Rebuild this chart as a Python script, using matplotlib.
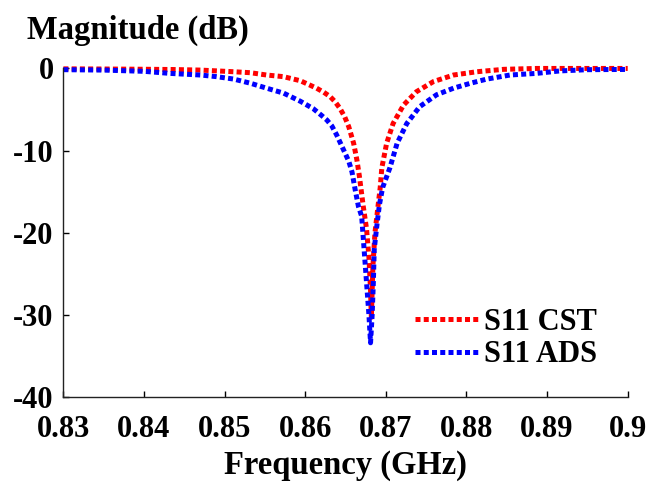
import matplotlib
matplotlib.use('Agg')
import matplotlib.pyplot as plt

# S11 sweep values (GHz, dB)
freq_cst = [0.830, 0.835, 0.840, 0.8435, 0.8470, 0.8511, 0.8532, 0.8552, 0.8573,
            0.8594, 0.8614, 0.8623, 0.8631, 0.8637, 0.8643, 0.8649, 0.8654, 0.8660,
            0.8664, 0.8667, 0.8672, 0.8676, 0.8679, 0.8681, 0.8682, 0.8684, 0.86865,
            0.8690, 0.8693, 0.8695, 0.8701, 0.8709, 0.8722, 0.8738, 0.8759, 0.8784,
            0.8813, 0.8846, 0.8887, 0.895, 0.900]
s11_cst = [-0.05, -0.07, -0.1, -0.13, -0.2, -0.4, -0.52, -0.8, -1.0,
           -1.5, -2.4, -2.9, -3.44, -4.05, -4.85, -5.9, -7.1, -9.1,
           -11.1, -13.0, -16.8, -19.5, -23.0, -27.0, -30.3, -24.0, -20.0,
           -17.0, -14.5, -12.1, -9.1, -6.7, -4.45, -2.83, -1.6, -0.8,
           -0.4, -0.11, 0.0, 0.0, 0.0]

freq_ads = [0.830, 0.835, 0.840, 0.8432, 0.8470, 0.8490, 0.8511, 0.8532, 0.8552,
            0.8573, 0.8594, 0.8610, 0.8620, 0.8627, 0.8633, 0.8639, 0.8647, 0.8654,
            0.8658, 0.8662, 0.8666, 0.8670, 0.86715, 0.8676, 0.8679, 0.8681, 0.8683,
            0.86845, 0.86856, 0.8689, 0.8692, 0.8696, 0.8705, 0.8714, 0.8726, 0.8742,
            0.8763, 0.8784, 0.8805, 0.8825, 0.8854, 0.8887, 0.8916, 0.895, 0.900]
s11_ads = [-0.15, -0.2, -0.35, -0.6, -0.8, -1.0, -1.29, -1.8, -2.4,
           -3.0, -4.0, -4.9, -5.7, -6.3, -7.0, -8.1, -9.8, -11.3,
           -12.6, -14.8, -16.8, -18.0, -20.0, -26.0, -30.0, -33.4, -30.0,
           -26.0, -22.0, -19.0, -16.6, -14.5, -12.1, -9.1, -6.7, -4.65,
           -3.2, -2.4, -1.8, -1.3, -0.8, -0.6, -0.3, -0.15, -0.12]

xticks = [0.83, 0.84, 0.85, 0.86, 0.87, 0.88, 0.89, 0.90]
xtick_labels = ['0.83', '0.84', '0.85', '0.86', '0.87', '0.88', '0.89', '0.9']
yticks = [-40, -30, -20, -10, 0]

plt.rcParams['font.family'] = 'Liberation Serif'
plt.rcParams['font.weight'] = 'bold'
plt.rcParams['axes.unicode_minus'] = False

fig = plt.figure(figsize=(6.59, 4.82), dpi=100)
ax = fig.add_axes([0.0962, 0.1763, 0.8563, 0.6817])

ax.plot(freq_cst, s11_cst, color='red', linewidth=3.6, dashes=(1.0, 0.65),
        label='S11 CST', clip_on=False)
ax.plot(freq_ads, s11_ads, color='blue', linewidth=3.6, dashes=(1.0, 0.65),
        label='S11 ADS', clip_on=False)

ax.set_xlim(0.83, 0.90)
ax.set_ylim(-40, 0)
ax.set_xticks(xticks)
ax.set_xticklabels(xtick_labels)
ax.set_yticks(yticks)
ax.tick_params(direction='in', length=4, width=1, labelsize=22)
ax.tick_params(axis='x', pad=13)
ax.tick_params(axis='y', pad=7)

for side in ['top', 'right']:
    ax.spines[side].set_visible(False)
for side in ['left', 'bottom']:
    ax.spines[side].set_linewidth(1.0)
    ax.spines[side].set_color('#222222')

ax.set_xlabel('Frequency (GHz)', fontsize=23.5, fontweight='bold', labelpad=4)
fig.text(27 / 659, 1 - 30 / 482, 'Magnitude (dB)', fontsize=23.5,
         fontweight='bold', va='center', ha='left')

ax.legend(loc='upper left', bbox_to_anchor=(415 / 659, 1 - 308 / 482),
          bbox_transform=fig.transFigure, frameon=False, borderpad=0,
          borderaxespad=0, fontsize=22, handlelength=2.06, handletextpad=0.2,
          labelspacing=0.11)

fig.savefig('out.png', dpi=100)
